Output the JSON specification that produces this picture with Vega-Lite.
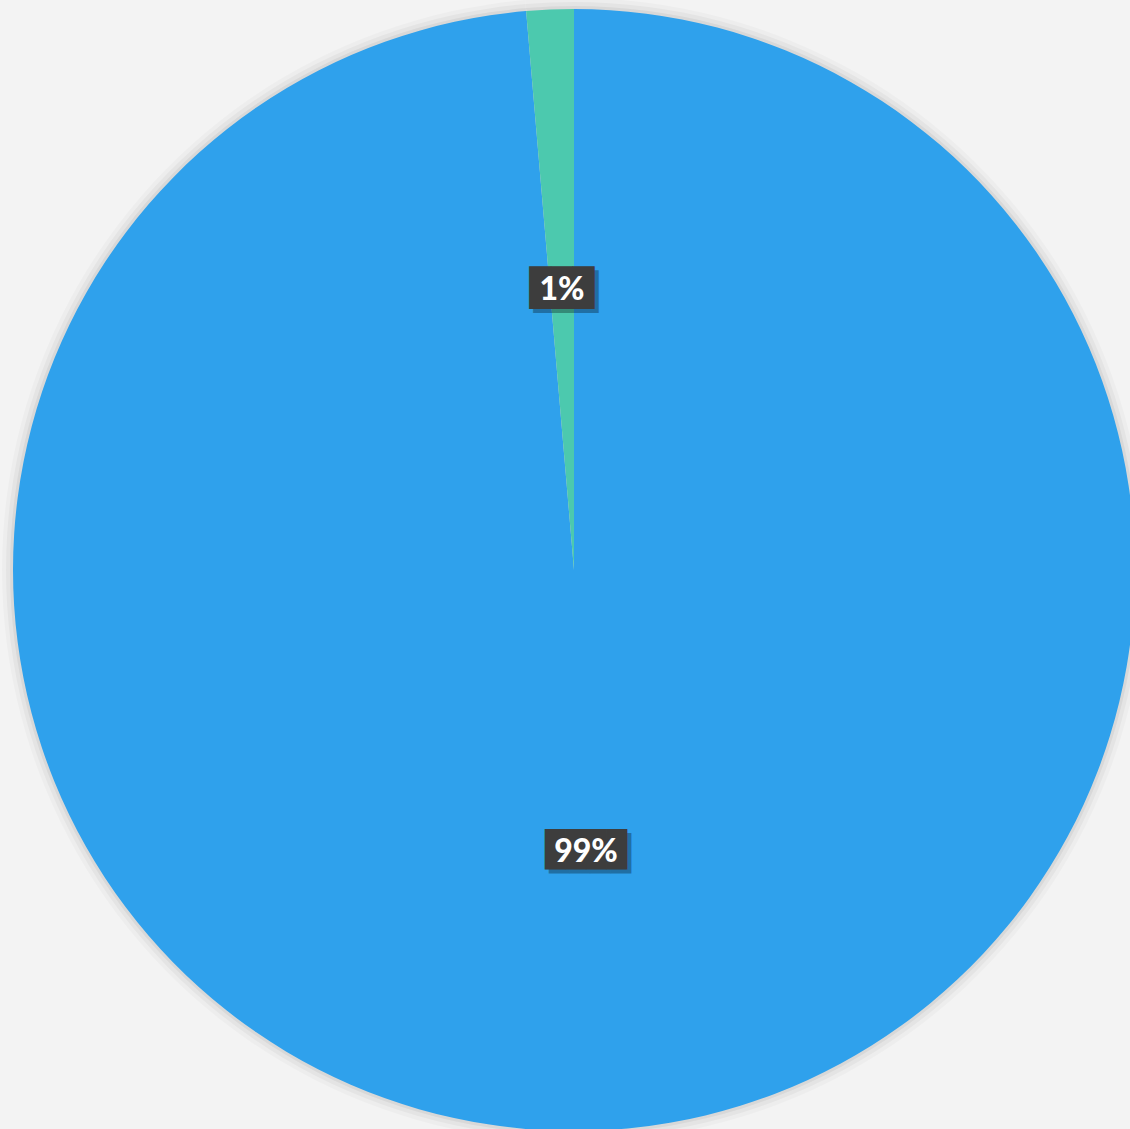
{
  "$schema": "https://vega.github.io/schema/vega-lite/v6.json",
  "width": 1112,
  "height": 1118,
  "autosize": {"type": "none"},
  "padding": {"left": 18, "top": 11, "right": 0, "bottom": 0},
  "background": "#f3f3f3",
  "config": {"view": {"stroke": null}},
  "data": {"values": [
    {"category": "A", "value": 98.64, "label": "99%"},
    {"category": "B", "value": 1.36, "label": "1%"}
  ]},
  "encoding": {
    "theta": {"field": "value", "type": "quantitative", "stack": true},
    "order": {"field": "category", "type": "nominal", "sort": "ascending"}
  },
  "layer": [
    {
      "mark": {"type": "arc", "outerRadius": 572, "color": "#000000", "opacity": 0.025},
      "encoding": {"theta": {"field": "value", "type": "quantitative", "stack": true}}
    },
    {
      "mark": {"type": "arc", "outerRadius": 568, "color": "#000000", "opacity": 0.035},
      "encoding": {"theta": {"field": "value", "type": "quantitative", "stack": true}}
    },
    {
      "mark": {"type": "arc", "outerRadius": 564, "color": "#000000", "opacity": 0.05},
      "encoding": {"theta": {"field": "value", "type": "quantitative", "stack": true}}
    },
    {
      "mark": {"type": "arc", "outerRadius": 561},
      "encoding": {
        "color": {"field": "category", "type": "nominal", "legend": null,
          "scale": {"domain": ["A", "B"], "range": ["#2fa1ec", "#4cc9ae"]}}
      }
    },
    {
      "mark": {"type": "text", "radius": 281, "font": "DejaVu Sans Mono", "align": "center", "baseline": "middle", "color": "#000000", "opacity": 0.3, "dx": 4, "dy": 4},
      "encoding": {
        "text": {"condition": {"test": "datum.category === 'A'", "value": "████"}, "value": "███"},
        "size": {"condition": {"test": "datum.category === 'A'", "value": 34}, "value": 36}
      }
    },
    {
      "mark": {"type": "text", "radius": 281, "font": "DejaVu Sans Mono", "align": "center", "baseline": "middle", "color": "#3d3d3d"},
      "encoding": {
        "text": {"condition": {"test": "datum.category === 'A'", "value": "████"}, "value": "███"},
        "size": {"condition": {"test": "datum.category === 'A'", "value": 34}, "value": 36}
      }
    },
    {
      "mark": {"type": "text", "radius": 281, "font": "Lato", "fontWeight": 900, "fontSize": 32, "align": "center", "baseline": "middle", "color": "#ffffff", "dy": 1},
      "encoding": {"text": {"field": "label", "type": "nominal"}}
    }
  ]
}
